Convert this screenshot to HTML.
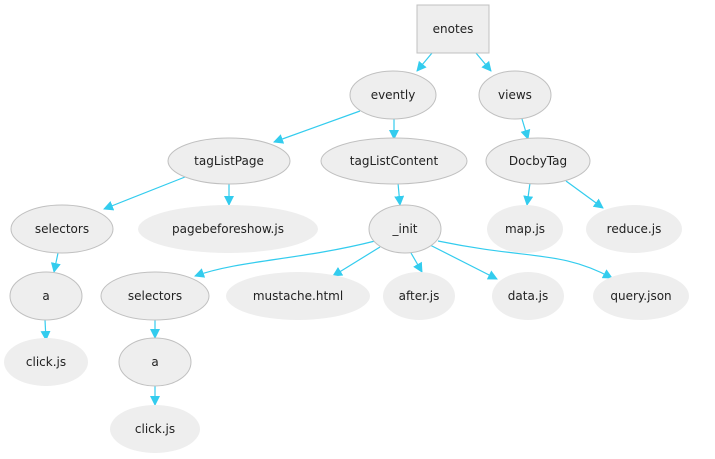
<!DOCTYPE html>
<html><head><style>body{margin:0;background:#fff}svg{display:block}</style></head><body>
<svg width="715" height="459" viewBox="0 0 715 459" xmlns="http://www.w3.org/2000/svg" font-family="DejaVu Sans, sans-serif" font-size="12" fill="#222">
<defs><marker id="ar" markerWidth="10" markerHeight="10" refX="9" refY="5" orient="auto" markerUnits="userSpaceOnUse"><path d="M0,0 L10,5 L0,10z" fill="#33ccee"/></marker></defs>
<g stroke="#33ccee" stroke-width="1.2" fill="none" marker-end="url(#ar)">
<path d="M432,53 L417,71"/>
<path d="M476,53 L491,71"/>
<path d="M360,111 L274,142"/>
<path d="M394,119 L394,139"/>
<path d="M522,119 L528,139"/>
<path d="M185,177 L104,209"/>
<path d="M229,183 L229,205"/>
<path d="M398,183 L400,205"/>
<path d="M530,183 L527,205"/>
<path d="M566,181 L603,208"/>
<path d="M58,253 L54,272"/>
<path d="M375,241 C300,260 240,260 195,276"/>
<path d="M380,247 L333,276"/>
<path d="M411,253 L422,272"/>
<path d="M430,245 L497,279"/>
<path d="M438,241 C530,260 560,250 612,278"/>
<path d="M155,320 L155,338"/>
<path d="M45,320 L46,340"/>
<path d="M155,386 L155,405"/>
</g>
<g fill="#eeeeee" stroke="#c0c0c0" stroke-width="1">
<rect x="417" y="5" width="72" height="48"/>
<ellipse cx="393" cy="95" rx="43" ry="24"/>
<ellipse cx="515" cy="95" rx="36" ry="24"/>
<ellipse cx="229" cy="161" rx="61" ry="23"/>
<ellipse cx="394" cy="161" rx="73" ry="23"/>
<ellipse cx="538" cy="161" rx="52" ry="23"/>
<ellipse cx="62" cy="229" rx="51" ry="24"/>
<ellipse cx="405" cy="229" rx="36" ry="24"/>
<ellipse cx="46" cy="296" rx="36" ry="24"/>
<ellipse cx="155" cy="296" rx="54" ry="24"/>
<ellipse cx="155" cy="362" rx="36" ry="24"/>
</g>
<g fill="#eeeeee">
<ellipse cx="228" cy="229" rx="90" ry="24"/>
<ellipse cx="525" cy="229" rx="38" ry="24"/>
<ellipse cx="634" cy="229" rx="48" ry="24"/>
<ellipse cx="298" cy="296" rx="72" ry="24"/>
<ellipse cx="419" cy="296" rx="36" ry="24"/>
<ellipse cx="528" cy="296" rx="36" ry="24"/>
<ellipse cx="641" cy="296" rx="48" ry="24"/>
<ellipse cx="46" cy="362" rx="42" ry="24"/>
<ellipse cx="155" cy="429" rx="45" ry="24"/>
</g>
<g text-anchor="middle">
<text x="453" y="33">enotes</text>
<text x="393" y="99">evently</text>
<text x="515" y="99">views</text>
<text x="229" y="165">tagListPage</text>
<text x="394" y="165">tagListContent</text>
<text x="538" y="165">DocbyTag</text>
<text x="62" y="233">selectors</text>
<text x="228" y="233">pagebeforeshow.js</text>
<text x="405" y="233">_init</text>
<text x="525" y="233">map.js</text>
<text x="634" y="233">reduce.js</text>
<text x="46" y="300">a</text>
<text x="155" y="300">selectors</text>
<text x="298" y="300">mustache.html</text>
<text x="419" y="300">after.js</text>
<text x="528" y="300">data.js</text>
<text x="641" y="300">query.json</text>
<text x="46" y="366">click.js</text>
<text x="155" y="366">a</text>
<text x="155" y="433">click.js</text>
</g>
</svg>
</body></html>
